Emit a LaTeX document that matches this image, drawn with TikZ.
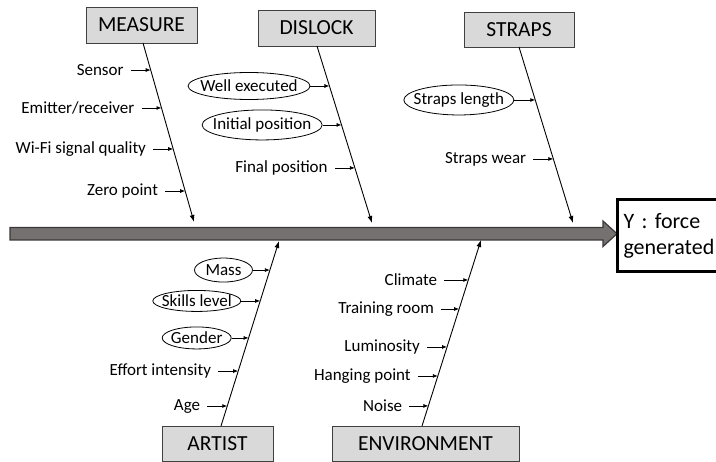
\documentclass[tikz,border=0pt]{standalone}
\usepackage{fontspec}
\setmainfont{Carlito}
\usetikzlibrary{calc,arrows.meta,shapes.geometric}
\definecolor{boxfill}{HTML}{D9D9D9}
\definecolor{barfill}{HTML}{767171}
\definecolor{bardraw}{HTML}{3A3838}
\begin{document}
\begin{tikzpicture}[x=1pt,y=-1pt,
  cat/.style={draw=black!75, fill=boxfill, line width=0.8pt, inner sep=0pt, text height=14pt, text depth=0pt, font=\fontsize{21.5}{24}\selectfont},
  lab/.style={anchor=east, inner xsep=7pt, inner ysep=2pt, font=\fontsize{17}{19}\selectfont},
  ov/.style={draw, ellipse, inner sep=0pt, line width=0.8pt, anchor=east},
  ovtext/.style={inner sep=0pt, font=\fontsize{17}{19}\selectfont},
  spine/.style={line width=0.9pt, -{Latex[length=7pt,width=5pt]}},
  sub/.style={line width=0.8pt, -{Latex[length=5pt,width=4pt]}},
]
\useasboundingbox (0,0) rectangle (716,462);

% main bar
\draw[fill=barfill, draw=bardraw, line width=1.2pt]
  (10,227.5) -- (603,227.5) -- (603,221) -- (617,233.75) -- (603,246.5) -- (603,240) -- (10,240) -- cycle;

% result box
\node[draw, line width=3pt, fill=white, anchor=west, minimum width=112pt, minimum height=72pt,
      text width=100pt, align=left, inner xsep=3pt, font=\fontsize{22}{26}\selectfont] (y) at (616,236)
      {Y : force\\generated};

% category boxes
\node[cat, minimum width=111pt, minimum height=36pt] (measure) at (141.5,25) {MEASURE};
\node[cat, minimum width=117pt, minimum height=36pt] (dislock) at (316.5,28) {DISLOCK};
\node[cat, minimum width=110pt, minimum height=35pt] (straps) at (519,29.5) {STRAPS};
\node[cat, minimum width=111pt, minimum height=35pt] (artist) at (217.5,443.5) {ARTIST};
\node[cat, minimum width=187pt, minimum height=35pt] (environment) at (425.5,443.5) {ENVIRONMENT};

% spine ends
\coordinate (m1) at (143,43);   \coordinate (m2) at (194,222);
\coordinate (d1) at (317,46);   \coordinate (d2) at (372,223);
\coordinate (s1) at (519,47);   \coordinate (s2) at (573,223);
\coordinate (a1) at (221,426);  \coordinate (a2) at (279,241);
\coordinate (e1) at (422,426);  \coordinate (e2) at (481,240);

\draw[spine] (m1) -- (m2);
\draw[spine] (d1) -- (d2);
\draw[spine] (s1) -- (s2);
\draw[spine] (a1) -- (a2);
\draw[spine] (e1) -- (e2);

% MEASURE causes
\coordinate (pm1) at ($(m1)!0.151!(m2)$);
\coordinate (pm2) at ($(m1)!0.363!(m2)$);
\coordinate (pm3) at ($(m1)!0.592!(m2)$);
\coordinate (pm4) at ($(m1)!0.827!(m2)$);
\node[lab] (sensor) at ($(pm1)+(-20,0)$) {Sensor};
\node[lab] (emitter) at ($(pm2)+(-20,0)$) {Emitter/receiver};
\node[lab] (wifi) at ($(pm3)+(-20,0)$) {Wi-Fi signal quality};
\node[lab] (zero) at ($(pm4)+(-20,0)$) {Zero point};
\draw[sub] (sensor) -- (pm1);
\draw[sub] (emitter) -- (pm2);
\draw[sub] (wifi) -- (pm3);
\draw[sub] (zero) -- (pm4);

% DISLOCK causes
\coordinate (pd1) at ($(d1)!0.226!(d2)$);
\coordinate (pd2) at ($(d1)!0.446!(d2)$);
\coordinate (pd3) at ($(d1)!0.689!(d2)$);
\node[ov, minimum width=122pt, minimum height=27pt] (well) at ($(pd1)+(-19,0)$) {};
\node[ovtext] at (well) {Well executed};
\node[ov, minimum width=120pt, minimum height=30pt] (initial) at ($(pd2)+(-19,0)$) {};
\node[ovtext] at (initial) {Initial position};
\node[lab] (final) at ($(pd3)+(-20,0)$) {Final position};
\draw[sub] (well) -- (pd1);
\draw[sub] (initial) -- (pd2);
\draw[sub] (final) -- (pd3);

% STRAPS causes
\coordinate (ps1) at ($(s1)!0.301!(s2)$);
\coordinate (ps2) at ($(s1)!0.636!(s2)$);
\node[ov, minimum width=110pt, minimum height=30pt] (length) at ($(ps1)+(-21,0)$) {};
\node[ovtext] at (length) {Straps length};
\node[lab] (wear) at ($(ps2)+(-20,0)$) {Straps wear};
\draw[sub] (length) -- (ps1);
\draw[sub] (wear) -- (ps2);

% ARTIST causes
\coordinate (pa1) at ($(a1)!0.843!(a2)$);
\coordinate (pa2) at ($(a1)!0.676!(a2)$);
\coordinate (pa3) at ($(a1)!0.476!(a2)$);
\coordinate (pa4) at ($(a1)!0.297!(a2)$);
\coordinate (pa5) at ($(a1)!0.108!(a2)$);
\node[ov, minimum width=58pt, minimum height=24pt] (mass) at ($(pa1)+(-17,0)$) {};
\node[ovtext] at (mass) {Mass};
\node[ov, minimum width=88pt, minimum height=21pt] (skills) at ($(pa2)+(-19,0)$) {};
\node[ovtext] at (skills) {Skills level};
\node[ov, minimum width=69pt, minimum height=22pt] (gender) at ($(pa3)+(-17,0)$) {};
\node[ovtext] at (gender) {Gender};
\node[lab] (effort) at ($(pa4)+(-20,0)$) {Effort intensity};
\node[lab] (age) at ($(pa5)+(-20,0)$) {Age};
\draw[sub] (mass) -- (pa1);
\draw[sub] (skills) -- (pa2);
\draw[sub] (gender) -- (pa3);
\draw[sub] (effort) -- (pa4);
\draw[sub] (age) -- (pa5);

% ENVIRONMENT causes
\coordinate (pe1) at ($(e1)!0.785!(e2)$);
\coordinate (pe2) at ($(e1)!0.629!(e2)$);
\coordinate (pe3) at ($(e1)!0.425!(e2)$);
\coordinate (pe4) at ($(e1)!0.269!(e2)$);
\coordinate (pe5) at ($(e1)!0.108!(e2)$);
\node[lab] (climate) at ($(pe1)+(-24,0)$) {Climate};
\node[lab] (training) at ($(pe2)+(-18,0)$) {Training room};
\node[lab] (lum) at ($(pe3)+(-20,0)$) {Luminosity};
\node[lab] (hanging) at ($(pe4)+(-20,0)$) {Hanging point};
\node[lab] (noise) at ($(pe5)+(-19,0)$) {Noise};
\draw[sub] (climate) -- (pe1);
\draw[sub] (training) -- (pe2);
\draw[sub] (lum) -- (pe3);
\draw[sub] (hanging) -- (pe4);
\draw[sub] (noise) -- (pe5);
\end{tikzpicture}
\end{document}
